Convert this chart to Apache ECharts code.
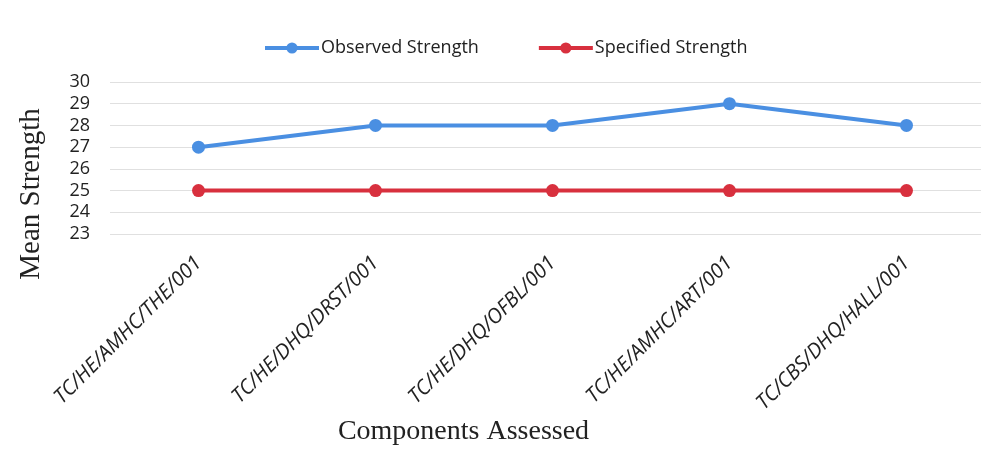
<!DOCTYPE html>
<html>
<head>
<meta charset="utf-8">
<script src="https://cdn.jsdelivr.net/npm/echarts@6/dist/echarts.min.js"></script>
<style>
  html, body { margin: 0; padding: 0; background: #fff; }
  #chart { width: 981px; height: 463px; }
</style>
</head>
<body>
<div id="chart"></div>
<script>
// categories on the x axis
const components = [
  'TC/HE/AMHC/THE/001',
  'TC/HE/DHQ/DRST/001',
  'TC/HE/DHQ/OFBL/001',
  'TC/HE/AMHC/ART/001',
  'TC/CBS/DHQ/HALL/001'
];
// series values
const observedStrength = [27, 28, 28, 29, 28];
const specifiedStrength = [25, 25, 25, 25, 25];
// y axis range
const yMin = 23;
const yMax = 30;

const chart = echarts.init(document.getElementById('chart'));

const lineSeries = (name, data, color) => ({
  name: name,
  type: 'line',
  data: data,
  symbol: 'circle',
  symbolSize: 13,
  lineStyle: { width: 4, color: color },
  itemStyle: { color: color },
  z: 3
});

chart.setOption({
  animation: false,
  legend: {
    top: 34,
    left: 258,
    itemGap: 58,
    itemWidth: 54,
    itemHeight: 14,
    lineStyle: { width: 4 },
    textStyle: { fontFamily: 'Open Sans', fontSize: 18, color: '#222', padding: [0, 0, 0, -3] },
    data: ['Observed Strength', 'Specified Strength']
  },
  grid: { left: 110, top: 82, width: 885, height: 152, outerBoundsMode: 'none' },
  xAxis: {
    type: 'category',
    data: components,
    boundaryGap: true,
    axisLine: { show: false },
    axisTick: { show: false },
    axisLabel: {
      rotate: 45,
      margin: 26,
      fontFamily: 'Open Sans',
      fontStyle: 'italic',
      fontSize: 20.5,
      color: '#222'
    },
    name: 'Components Assessed',
    nameLocation: 'middle',
    nameGap: 184,
    nameTextStyle: {
      fontFamily: 'Liberation Serif',
      fontSize: 28,
      color: '#222',
      padding: [0, 0, 0, -178]
    }
  },
  yAxis: {
    type: 'value',
    min: yMin,
    max: yMax,
    interval: 1,
    axisLine: { show: false },
    axisTick: { show: false },
    splitLine: { lineStyle: { color: '#e0e0e0', width: 1 } },
    axisLabel: {
      margin: 20,
      fontFamily: 'Open Sans',
      fontSize: 18,
      color: '#222'
    },
    name: 'Mean Strength',
    nameLocation: 'middle',
    nameGap: 64,
    nameRotate: 90,
    nameTextStyle: {
      fontFamily: 'Liberation Serif',
      fontSize: 29,
      color: '#222',
      padding: [0, 0, 0, -72]
    }
  },
  series: [
    lineSeries('Observed Strength', observedStrength, '#4a8fe2'),
    lineSeries('Specified Strength', specifiedStrength, '#d8303e')
  ]
});
</script>
</body>
</html>
